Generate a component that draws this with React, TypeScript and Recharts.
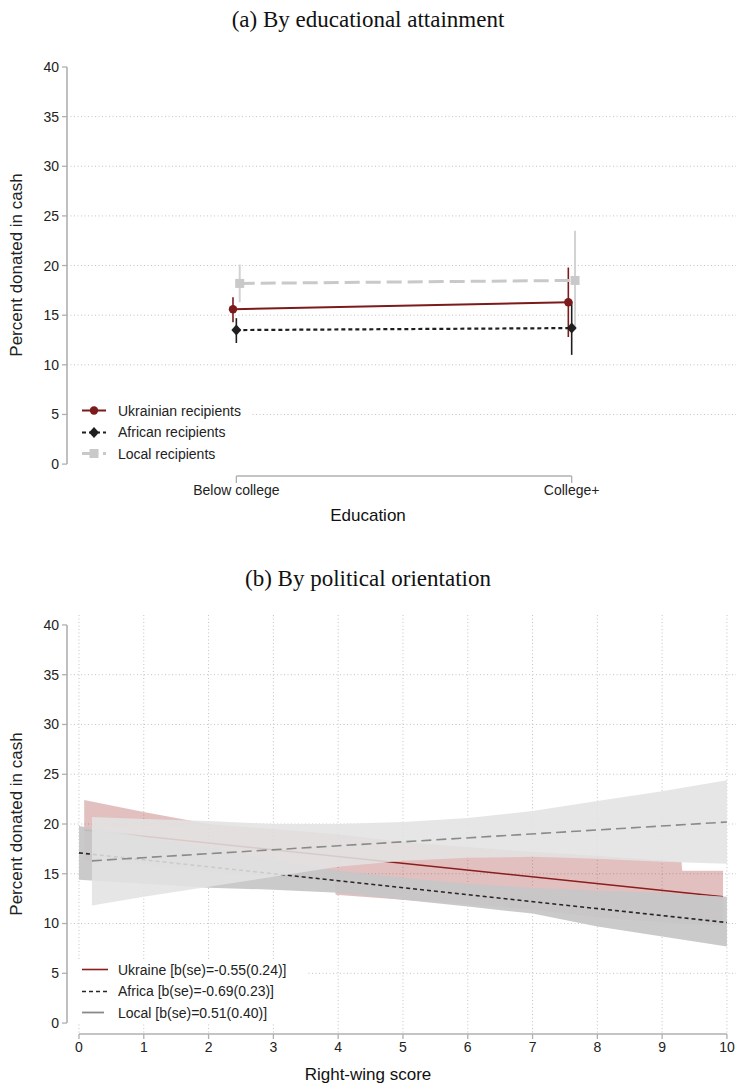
import React from "react";
import {
  ComposedChart,
  Line,
  Area,
  XAxis,
  YAxis,
  CartesianGrid,
  ErrorBar,
  ReferenceLine,
} from "recharts";

const SANS = '"Liberation Sans", Arial, Helvetica, sans-serif';
const SERIF = '"Liberation Serif", "Times New Roman", serif';
const INK = "#222";
const AXIS = "#b0b0b0";
const GRID = "#c4c4c4";

const yTicks = [0, 5, 10, 15, 20, 25, 30, 35, 40];
const gridY = [5, 10, 15, 20, 25, 30, 35];

// (a) by education
const eduLabels = ["Below college", "College+"];
const eduPos = [1, 2];
const ukrEst = [15.6, 16.3];
const ukrLo = [14.3, 12.8];
const ukrHi = [16.8, 19.8];
const afrEst = [13.5, 13.7];
const afrLo = [12.2, 11.0];
const afrHi = [14.7, 16.4];
const locEst = [18.2, 18.5];
const locLo = [16.3, 13.5];
const locHi = [20.1, 23.5];

// (b) by right-wing score
const scoreTicks = [0, 1, 2, 3, 4, 5, 6, 7, 8, 9, 10];

const ukrBandX = [0.08, 1, 2, 3, 3.95, 3.96, 5, 6, 7, 8, 9.3, 9.31, 9.94];
const ukrBandLo = [16.4, 15.9, 15.2, 14.7, 14.3, 12.9, 12.4, 11.9, 11.4, 10.6, 10.0, 10.0, 9.8];
const ukrBandHi = [22.4, 21.2, 20.0, 19.5, 19.0, 19.0, 18.2, 17.7, 17.2, 16.8, 16.2, 15.3, 15.3];
const ukrLineX = [0.08, 9.94];
const ukrLineY = [19.4, 12.7];

const afrBandX = [0, 1, 2, 3, 4, 5, 6, 7, 8, 9, 10];
const afrBandLo = [14.4, 14.0, 13.6, 13.4, 13.1, 12.4, 11.7, 11.0, 9.7, 8.7, 7.7];
const afrBandHi = [19.8, 18.7, 17.7, 16.4, 15.3, 14.6, 14.0, 13.6, 13.3, 13.1, 12.7];
const afrLineX = [0, 10];
const afrLineY = [17.1, 10.1];

const locBandX = [0.2, 1, 2, 3, 4, 5, 6, 7, 8, 9, 10];
const locBandLo = [11.8, 12.7, 13.7, 14.7, 15.7, 16.3, 16.6, 16.7, 16.5, 16.2, 16.0];
const locBandHi = [20.7, 20.5, 20.3, 20.0, 20.0, 20.2, 20.6, 21.3, 22.3, 23.3, 24.4];
const locLineX = [0.2, 10];
const locLineY = [16.3, 20.2];

const UKR = "#7b1b1b";
const AFR = "#1f1f1f";
const LOC = "#c9c9c9";

function eduRows(est: number[], lo: number[], hi: number[], shift: number) {
  return eduPos.map((p, i) => ({
    x: p + shift,
    y: est[i],
    err: [est[i] - lo[i], hi[i] - est[i]],
  }));
}

const ukrRows = eduRows(ukrEst, ukrLo, ukrHi, -0.01);
const afrRows = eduRows(afrEst, afrLo, afrHi, 0);
const locRows = eduRows(locEst, locLo, locHi, 0.01);

// merge the fit series into one table keyed by score
function buildScoreRows() {
  const rows = new Map<number, any>();
  const put = (x: number, key: string, v: any) => {
    if (!rows.has(x)) rows.set(x, { x });
    rows.get(x)[key] = v;
  };
  ukrBandX.forEach((x, i) => put(x, "ukrBand", [ukrBandLo[i], ukrBandHi[i]]));
  afrBandX.forEach((x, i) => put(x, "afrBand", [afrBandLo[i], afrBandHi[i]]));
  locBandX.forEach((x, i) => put(x, "locBand", [locBandLo[i], locBandHi[i]]));
  ukrLineX.forEach((x, i) => put(x, "ukrLine", ukrLineY[i]));
  afrLineX.forEach((x, i) => put(x, "afrLine", afrLineY[i]));
  locLineX.forEach((x, i) => put(x, "locLine", locLineY[i]));
  return Array.from(rows.values()).sort((a, b) => a.x - b.x);
}
const scoreRows = buildScoreRows();

const circleDot = (p: any) =>
  p.cx == null ? null : <circle key={p.key ?? `c${p.index}`} cx={p.cx} cy={p.cy} r={4.2} fill={UKR} />;
const diamondDot = (p: any) =>
  p.cx == null ? null : (
    <path
      key={p.key ?? `d${p.index}`}
      d={`M${p.cx},${p.cy - 5.5}L${p.cx + 5},${p.cy}L${p.cx},${p.cy + 5.5}L${p.cx - 5},${p.cy}Z`}
      fill={AFR}
    />
  );
const squareDot = (p: any) =>
  p.cx == null ? null : (
    <rect key={p.key ?? `s${p.index}`} x={p.cx - 4.5} y={p.cy - 4.5} width={9} height={9} fill={LOC} />
  );

const tickStyle = { fill: INK, fontSize: 14, fontFamily: SANS };

function YLabel({ top }: { top: number }) {
  return (
    <div
      style={{
        position: "absolute",
        left: 17,
        top,
        transform: "translate(-50%, -50%) rotate(-90deg)",
        whiteSpace: "nowrap",
        fontFamily: SANS,
        fontSize: 17,
        color: INK,
      }}
    >
      Percent donated in cash
    </div>
  );
}

function Centered({ text, top, font, size }: { text: string; top: number; font: string; size: number }) {
  return (
    <div
      style={{
        position: "absolute",
        left: 0,
        width: 736,
        top,
        transform: "translateY(-50%)",
        textAlign: "center",
        fontFamily: font,
        fontSize: size,
        color: "#111",
        whiteSpace: "nowrap",
      }}
    >
      {text}
    </div>
  );
}

function LegendRow({ sample, label }: { sample: React.ReactNode; label: string }) {
  return (
    <div style={{ display: "flex", alignItems: "center", height: 21.5 }}>
      <svg width={50} height={21} style={{ flex: "none" }}>
        {sample}
      </svg>
      <span style={{ fontFamily: SANS, fontSize: 14, color: INK, whiteSpace: "nowrap" }}>{label}</span>
    </div>
  );
}

export default function App() {
  return (
    <div style={{ position: "absolute", left: 0, top: 0, width: 736, height: 1085, background: "#fff" }}>
      <Centered text="(a) By educational attainment" top={20} font={SERIF} size={23} />

      <div style={{ position: "absolute", left: 0, top: 0 }}>
        <ComposedChart width={736} height={530} margin={{ top: 67, right: 0, bottom: 0, left: 0 }}>
          <CartesianGrid
            vertical={false}
            horizontalValues={gridY}
            stroke={GRID}
            strokeDasharray="1 2.5"
          />
          <XAxis
            type="number"
            dataKey="x"
            domain={[0.495, 2.49]}
            ticks={eduPos}
            interval={0}
            allowDataOverflow
            tickFormatter={(v: number) => eduLabels[eduPos.indexOf(v)] ?? ""}
            axisLine={false}
            tickLine={{ stroke: AXIS, strokeWidth: 1.3 }}
            tickSize={7}
            tick={tickStyle}
            height={54}
          />
          <YAxis
            type="number"
            domain={[-1.2, 40]}
            ticks={yTicks}
            interval={0}
            allowDataOverflow
            axisLine={false}
            tickLine={{ stroke: AXIS, strokeWidth: 1.3 }}
            tickSize={5}
            tickMargin={3}
            tick={tickStyle}
            width={67}
          />
          <ReferenceLine segment={[{ x: 0.495, y: 0 }, { x: 0.495, y: 40 }]} stroke={AXIS} strokeWidth={1.6} />
          <ReferenceLine segment={[{ x: 1, y: -1.2 }, { x: 2, y: -1.2 }]} stroke={AXIS} strokeWidth={1.3} />
          <Line
            data={ukrRows}
            dataKey="y"
            stroke={UKR}
            strokeWidth={2}
            dot={circleDot}
            isAnimationActive={false}
          >
            <ErrorBar dataKey="err" width={0} stroke={UKR} strokeWidth={1.6} direction="y" isAnimationActive={false} />
          </Line>
          <Line
            data={afrRows}
            dataKey="y"
            stroke={AFR}
            strokeWidth={2.2}
            strokeDasharray="4 3"
            dot={diamondDot}
            isAnimationActive={false}
          >
            <ErrorBar dataKey="err" width={0} stroke={AFR} strokeWidth={1.6} direction="y" isAnimationActive={false} />
          </Line>
          <Line
            data={locRows}
            dataKey="y"
            stroke={LOC}
            strokeWidth={3}
            strokeDasharray="15 6"
            dot={squareDot}
            isAnimationActive={false}
          >
            <ErrorBar dataKey="err" width={0} stroke="#d2d2d2" strokeWidth={2} direction="y" isAnimationActive={false} />
          </Line>
        </ComposedChart>
      </div>

      <div style={{ position: "absolute", left: 68, top: 400, width: 184, background: "#fff" }}>
        <LegendRow
          label="Ukrainian recipients"
          sample={
            <g>
              <line x1={14} x2={38} y1={10.5} y2={10.5} stroke={UKR} strokeWidth={2} />
              <circle cx={26} cy={10.5} r={4.2} fill={UKR} />
            </g>
          }
        />
        <LegendRow
          label="African recipients"
          sample={
            <g>
              <line x1={14} x2={38} y1={10.5} y2={10.5} stroke={AFR} strokeWidth={2.2} strokeDasharray="4 3" />
              <path d="M26,5L31,10.5L26,16L21,10.5Z" fill={AFR} />
            </g>
          }
        />
        <LegendRow
          label="Local recipients"
          sample={
            <g>
              <line x1={14} x2={38} y1={10.5} y2={10.5} stroke={LOC} strokeWidth={3} strokeDasharray="15 6" />
              <rect x={21.5} y={6} width={9} height={9} fill={LOC} />
            </g>
          }
        />
      </div>

      <Centered text="Education" top={516} font={SANS} size={17} />
      <YLabel top={265} />

      <Centered text="(b) By political orientation" top={579} font={SERIF} size={23} />

      <div style={{ position: "absolute", left: 0, top: 548 }}>
        <ComposedChart
          width={736}
          height={537}
          data={scoreRows}
          margin={{ top: 67, right: 0, bottom: 0, left: 0 }}
        >
          <CartesianGrid
            horizontalValues={gridY}
            verticalValues={scoreTicks}
            stroke={GRID}
            strokeDasharray="1 2.5"
          />
          <XAxis
            type="number"
            dataKey="x"
            domain={[-0.185, 10.14]}
            ticks={scoreTicks}
            interval={0}
            allowDataOverflow
            axisLine={false}
            tickLine={{ stroke: AXIS, strokeWidth: 1.3 }}
            tickSize={5}
            tickMargin={3}
            tick={tickStyle}
            height={51}
          />
          <YAxis
            type="number"
            domain={[-1.1, 41]}
            ticks={yTicks}
            interval={0}
            allowDataOverflow
            axisLine={false}
            tickLine={{ stroke: AXIS, strokeWidth: 1.3 }}
            tickSize={5}
            tickMargin={3}
            tick={tickStyle}
            width={67}
          />
          <ReferenceLine segment={[{ x: -0.185, y: 0 }, { x: -0.185, y: 40 }]} stroke={AXIS} strokeWidth={1.6} />
          <ReferenceLine segment={[{ x: 0, y: -1.1 }, { x: 10, y: -1.1 }]} stroke={AXIS} strokeWidth={1.6} />

          <Area
            dataKey="ukrBand"
            type="linear"
            stroke="none"
            fill="#a02626"
            fillOpacity={0.29}
            connectNulls
            isAnimationActive={false}
            zIndex={101}
          />
          <Line
            dataKey="ukrLine"
            type="linear"
            stroke="#8b1d1d"
            strokeWidth={1.5}
            dot={false}
            connectNulls
            isAnimationActive={false}
            zIndex={102}
          />
          <Area
            dataKey="afrBand"
            type="linear"
            stroke="none"
            fill="#c6c6c6"
            fillOpacity={0.93}
            connectNulls
            isAnimationActive={false}
            zIndex={103}
          />
          <Line
            dataKey="afrLine"
            type="linear"
            stroke="#262626"
            strokeWidth={1.6}
            strokeDasharray="4 3"
            dot={false}
            connectNulls
            isAnimationActive={false}
            zIndex={104}
          />
          <Area
            dataKey="locBand"
            type="linear"
            stroke="none"
            fill="#e3e3e3"
            fillOpacity={0.88}
            connectNulls
            isAnimationActive={false}
            zIndex={105}
          />
          <Line
            dataKey="locLine"
            type="linear"
            stroke="#8a8a8a"
            strokeWidth={1.6}
            strokeDasharray="10 5"
            dot={false}
            connectNulls
            isAnimationActive={false}
            zIndex={106}
          />
        </ComposedChart>
      </div>

      <div style={{ position: "absolute", left: 68, top: 959, width: 238, background: "#fff" }}>
        <LegendRow
          label="Ukraine [b(se)=-0.55(0.24)]"
          sample={<line x1={14} x2={40} y1={10.5} y2={10.5} stroke="#8b1d1d" strokeWidth={1.6} />}
        />
        <LegendRow
          label="Africa [b(se)=-0.69(0.23)]"
          sample={<line x1={14} x2={40} y1={10.5} y2={10.5} stroke="#262626" strokeWidth={1.6} strokeDasharray="4 3" />}
        />
        <LegendRow
          label="Local [b(se)=0.51(0.40)]"
          sample={<line x1={14} x2={36} y1={10.5} y2={10.5} stroke="#8a8a8a" strokeWidth={1.8} />}
        />
      </div>

      <Centered text="Right-wing score" top={1075} font={SANS} size={17} />
      <YLabel top={824} />
    </div>
  );
}
